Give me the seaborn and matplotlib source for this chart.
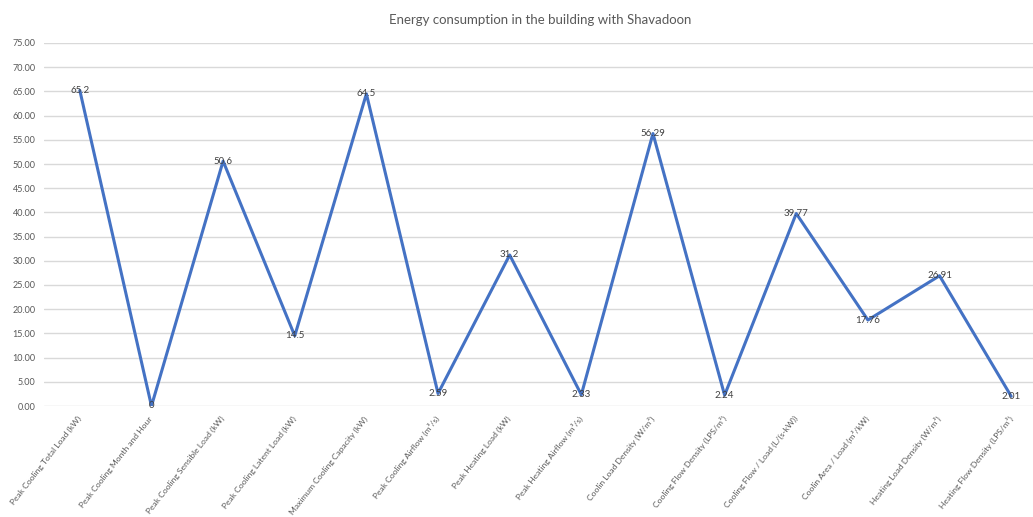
import matplotlib
matplotlib.use("Agg")
import matplotlib.pyplot as plt
import seaborn as sns
import pandas as pd

# Chart data
categories = [
    "Peak Cooling Total Load (kW)",
    "Peak Cooling Month and Hour",
    "Peak Cooling Sensible Load (kW)",
    "Peak Cooling Latent Load (kW)",
    "Maximum Cooling Capacity (kW)",
    "Peak Cooling Airflow (m³/s)",
    "Peak Heating Load (kW)",
    "Peak Heating Airflow (m³/s)",
    "Coolin Load Density (W/m²)",
    "Cooling Flow Density (LPS/m²)",
    "Cooling Flow / Load (L/(s-kW))",
    "Coolin Area / Load (m²/kW)",
    "Heating Load Density (W/m²)",
    "Heating Flow Density (LPS/m²)",
]
values = [65.2, 0, 50.6, 14.5, 64.5, 2.59, 31.2, 2.33, 56.29, 2.24, 39.77, 17.76, 26.91, 2.01]
y_ticks = [0, 5, 10, 15, 20, 25, 30, 35, 40, 45, 50, 55, 60, 65, 70, 75]

sns.set_style("white")
plt.rcParams["font.family"] = ["Lato", "DejaVu Sans"]

df = pd.DataFrame({"pos": range(len(categories)), "value": values})

fig = plt.figure(figsize=(10.33, 5.17), dpi=100)
ax = fig.add_axes([44 / 1033, 111 / 517, 1003 / 1033, 363 / 517])

sns.lineplot(data=df, x="pos", y="value", sort=False, color="#4472C4", linewidth=2.2, ax=ax)

# data labels centred on the points, Excel style
for i, v in enumerate(values):
    ax.text(i, v, f"{v:g}", ha="center", va="center", fontsize=7, color="#404040")

ax.set_xlim(-0.5, len(categories) - 0.5)
ax.set_ylim(0, 75)
ax.set_yticks(y_ticks)
ax.set_yticklabels([f"{t:.2f}" for t in y_ticks], fontsize=6.5, color="#595959")
ax.set_xticks(range(len(categories)))
ax.set_xticklabels(categories, rotation=52, ha="right", va="center", rotation_mode="anchor",
                   fontsize=6.1, color="#595959")
ax.tick_params(axis="y", length=0, pad=6)
ax.tick_params(axis="x", length=0, pad=8)
ax.grid(axis="y", color="#D9D9D9", linewidth=1)
ax.set_axisbelow(True)
for s in ax.spines.values():
    s.set_visible(False)
ax.set_xlabel("")
ax.set_ylabel("")

fig.text(540 / 1033, 1 - 20 / 517, "Energy consumption in the building with Shavadoon",
         ha="center", va="center", fontsize=9.5, color="#595959")

fig.savefig("out.png", dpi=100)
